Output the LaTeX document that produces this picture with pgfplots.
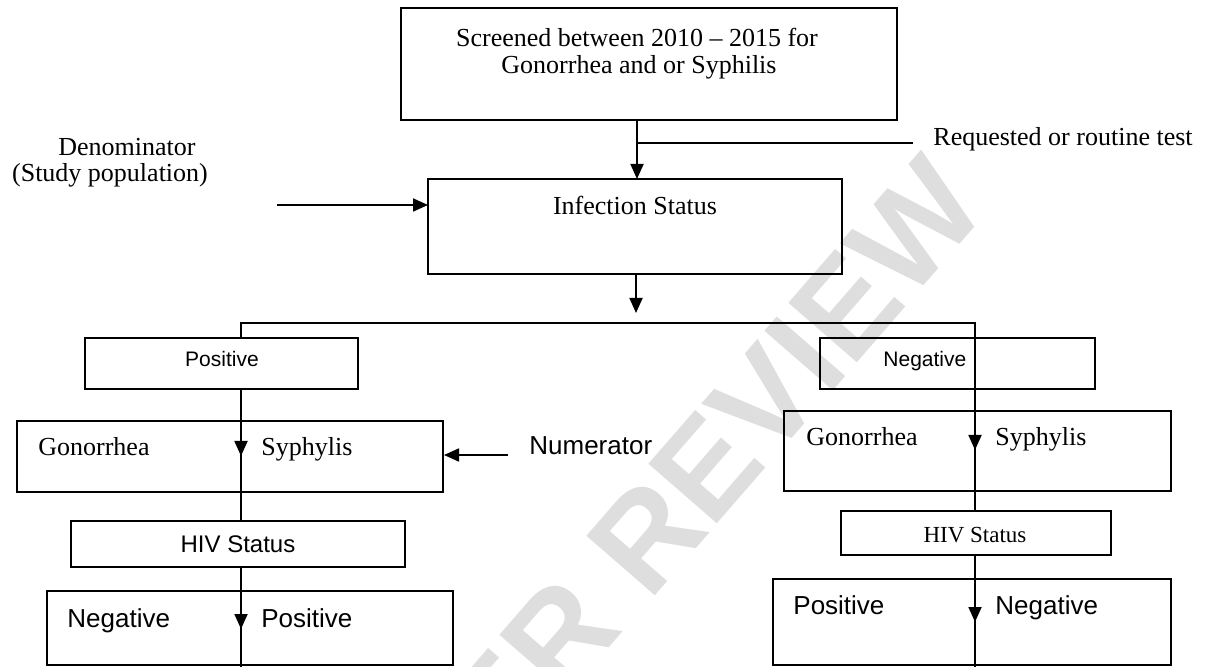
\documentclass[border=0pt]{standalone}
\usepackage{pgfplots}
\pgfplotsset{compat=1.18}
\usetikzlibrary{arrows.meta}
\usepackage{fontspec}
\setmainfont{Liberation Serif}
\newfontfamily\arial{Liberation Sans}
\definecolor{wm}{HTML}{DEDEDE}
\begin{document}
\begin{tikzpicture}[
  box/.style={draw=black, line width=0.9pt},
  ln/.style={black, line width=0.9pt},
  arr/.style={black, line width=0.9pt, -{Triangle[length=7.5pt,width=6.5pt]}},
  serif/.style={font=\fontsize{13}{15.6}\selectfont, inner sep=0pt},
  sans/.style={font=\arial\fontsize{13}{15.6}\selectfont, inner sep=0pt},
  sanssmall/.style={font=\arial\fontsize{10.5}{12.6}\selectfont, inner sep=0pt},
]
\begin{axis}[width=607pt, height=333.5pt, scale only axis,
  xmin=0, xmax=1214, ymin=0, ymax=667, y dir=reverse,
  hide axis, clip=false]
\coordinate (SW) at (0,667);
\coordinate (NE) at (1214,0);
% watermark
\begin{scope}
\clip (0,0) rectangle (1214,667);
\node[anchor=base east, rotate=49, text=wm, inner sep=0pt,
      font=\arial\bfseries\fontsize{66}{70}\selectfont] at (991,209) {PEER REVIEW};
\end{scope}
% top box
\draw[box] (401,8) rectangle (897,120);
\node[serif] at (637,37) {Screened between 2010 -- 2015 for};
\node[serif] at (639,67) {Gonorrhea and or Syphilis};
\draw[arr] (637,120) -- (637,179);
\draw[ln] (637,143) -- (913,143);
\node[serif, anchor=base west] at (933,146) {Requested or routine test};
% denominator
\node[serif] at (127,147) {Denominator};
\node[serif] at (110,175) {(Study population)};
\draw[arr] (277,205) -- (428,205);
% infection status
\draw[box] (428,179) rectangle (842,274);
\node[serif] at (635,205) {Infection Status};
\draw[arr] (636,274) -- (636,313);
\draw[ln] (241,338) -- (241,323) -- (975,323) -- (975,511);
% left branch
\draw[box] (85,338) rectangle (358,389);
\node[sanssmall, anchor=base] at (222,367) {Positive};
\draw[box] (17,421) rectangle (443,492);
\draw[ln] (241,389) -- (241,521);
\draw[arr] (241,430) -- (241,456);
\node[serif, anchor=base west] at (38,456) {Gonorrhea};
\node[serif, anchor=base west] at (261,456) {Syphylis};
\draw[arr] (508,455) -- (444,455);
\node[sans, anchor=base west] at (529,455) {Numerator};
\draw[box] (71,521) rectangle (405,567);
\node[font=\arial\fontsize{12}{14}\selectfont, inner sep=0pt, anchor=base] at (238,552) {HIV Status};
\draw[box] (47,591) rectangle (453,665);
\draw[ln] (241,567) -- (241,667);
\draw[arr] (241,603) -- (241,629);
\node[sans, anchor=base west] at (67,627) {Negative};
\node[sans, anchor=base west] at (261,627) {Positive};
% right branch
\draw[box] (820,338) rectangle (1095,389);
\node[sanssmall, anchor=base west] at (883,367) {Negative};
\draw[box] (784,411) rectangle (1171,491);
\draw[arr] (975,424) -- (975,450);
\node[serif, anchor=base west] at (806,446) {Gonorrhea};
\node[serif, anchor=base west] at (995,446) {Syphylis};
\draw[box] (841,511) rectangle (1111,555);
\node[font=\fontsize{11.5}{14}\selectfont, inner sep=0pt, anchor=base] at (975,542) {HIV Status};
\draw[box] (773,579) rectangle (1171,665);
\draw[ln] (975,555) -- (975,667);
\draw[arr] (975,596) -- (975,622);
\node[sans, anchor=base west] at (793,614) {Positive};
\node[sans, anchor=base west] at (995,614) {Negative};
\end{axis}
\pgfresetboundingbox
\useasboundingbox (SW) rectangle (NE);
\end{tikzpicture}
\end{document}
